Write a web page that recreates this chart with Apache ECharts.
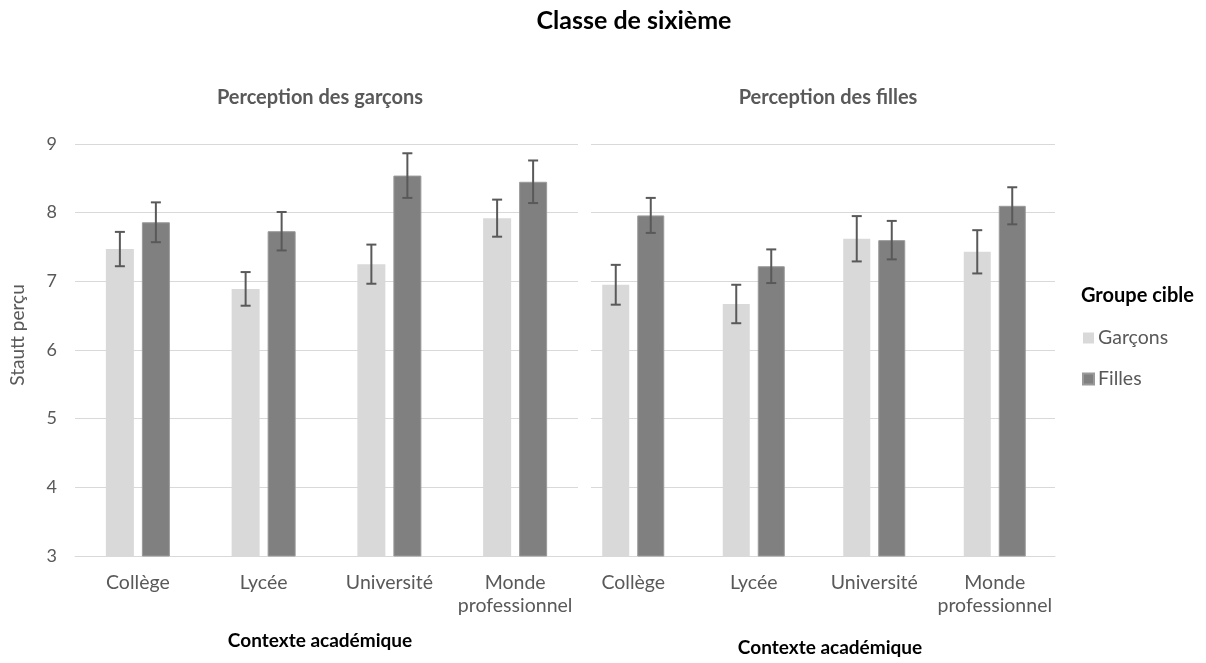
<!DOCTYPE html>
<html><head><meta charset="utf-8">
<script src="https://cdn.jsdelivr.net/npm/echarts@6/dist/echarts.min.js"></script>
<style>html,body{margin:0;padding:0;background:#fff}#c{width:1206px;height:663px}</style>
</head><body><div id="c"></div>
<script>
const categories = ['Collège', 'Lycée', 'Université', 'Monde\nprofessionnel'];
const yTicks = [3, 4, 5, 6, 7, 8, 9];
// Perception des garçons
const boysViewGarcons = [7.47, 6.89, 7.25, 7.92];
const boysViewGarconsErr = [0.25, 0.245, 0.285, 0.27];
const boysViewFilles = [7.86, 7.73, 8.54, 8.45];
const boysViewFillesErr = [0.29, 0.28, 0.325, 0.31];
// Perception des filles
const girlsViewGarcons = [6.95, 6.67, 7.62, 7.43];
const girlsViewGarconsErr = [0.29, 0.28, 0.33, 0.315];
const girlsViewFilles = [7.96, 7.22, 7.60, 8.10];
const girlsViewFillesErr = [0.255, 0.245, 0.28, 0.27];

const FONT = 'Lato';
const TXT = '#595959';
const GRID = '#d9d9d9';
const C_G = '#d9d9d9', C_F = '#808080';
const BW = [28, 27];
const GAP = 8;

function errData(vals, errs) { return vals.map((v, i) => [i, v - errs[i], v + errs[i]]); }
function errSeries(vals, errs, gridIdx, side) {
  const bw = BW[gridIdx];
  const off = side * (bw / 2 + GAP / 2);
  return {
    type: 'custom', xAxisIndex: gridIdx, yAxisIndex: gridIdx, z: 10, silent: true,
    data: errData(vals, errs),
    encode: { x: 0, y: [1, 2] },
    renderItem: function (params, api) {
      const lo = api.coord([api.value(0), api.value(1)]);
      const hi = api.coord([api.value(0), api.value(2)]);
      const x = lo[0] + off, cap = 5;
      const st = { stroke: '#595959', lineWidth: 2 };
      return { type: 'group', children: [
        { type: 'line', shape: { x1: x, y1: lo[1], x2: x, y2: hi[1] }, style: st },
        { type: 'line', shape: { x1: x - cap, y1: lo[1], x2: x + cap, y2: lo[1] }, style: st },
        { type: 'line', shape: { x1: x - cap, y1: hi[1], x2: x + cap, y2: hi[1] }, style: st }
      ]};
    }
  };
}
function xAx(gridIdx) {
  return {
    type: 'category', gridIndex: gridIdx, data: categories,
    axisTick: { show: false },
    axisLine: { show: true, lineStyle: { color: GRID, width: 1 } },
    axisLabel: { color: TXT, fontSize: 19.5, fontFamily: FONT, margin: 15, lineHeight: 23, interval: 0 }
  };
}
function yAx(gridIdx, labels, split) {
  return {
    type: 'value', gridIndex: gridIdx, min: 3, max: 9, interval: 1,
    axisLine: { show: false }, axisTick: { show: false },
    axisLabel: { show: labels, color: TXT, fontSize: 18, fontFamily: FONT, margin: 18 },
    splitLine: { show: split, lineStyle: { color: GRID, width: 1 } }
  };
}

const chart = echarts.init(document.getElementById('c'), null, { renderer: 'canvas' });
chart.setOption({
  animation: false,
  textStyle: { fontFamily: FONT },
  grid: [
    { left: 75, width: 503, top: 144, bottom: 107 },
    { left: 573, width: 482, top: 144, bottom: 107 },
    { left: 591, width: 464, top: 144, bottom: 107 }
  ],
  xAxis: [xAx(0), xAx(1), { type: 'category', gridIndex: 2, data: categories, show: false }],
  yAxis: [yAx(0, true, true), yAx(1, false, false), yAx(2, false, true)],
  legend: {
    orient: 'vertical', left: 1077, top: 323, itemWidth: 11, itemHeight: 11, itemGap: 21,
    icon: 'rect', data: ['Garçons', 'Filles'],
    textStyle: { color: TXT, fontSize: 19.5, fontFamily: FONT, padding: [0, 0, 0, -1] }
  },
  series: [
    { name: 'Garçons', type: 'bar', xAxisIndex: 0, yAxisIndex: 0, data: boysViewGarcons, barWidth: BW[0], barGap: (GAP / BW[0] * 100) + '%', itemStyle: { color: C_G } },
    { name: 'Filles', type: 'bar', xAxisIndex: 0, yAxisIndex: 0, data: boysViewFilles, barWidth: BW[0], itemStyle: { color: C_F, borderColor: '#9a9a9a', borderWidth: 1 } },
    { name: 'Garçons', type: 'bar', xAxisIndex: 1, yAxisIndex: 1, data: girlsViewGarcons, barWidth: BW[1], barGap: (GAP / BW[1] * 100) + '%', itemStyle: { color: C_G } },
    { name: 'Filles', type: 'bar', xAxisIndex: 1, yAxisIndex: 1, data: girlsViewFilles, barWidth: BW[1], itemStyle: { color: C_F, borderColor: '#9a9a9a', borderWidth: 1 } },
    errSeries(boysViewGarcons, boysViewGarconsErr, 0, -1),
    errSeries(boysViewFilles, boysViewFillesErr, 0, 1),
    errSeries(girlsViewGarcons, girlsViewGarconsErr, 1, -1),
    errSeries(girlsViewFilles, girlsViewFillesErr, 1, 1)
  ],
  graphic: [
    { type: 'text', x: 634, y: 21, style: { text: 'Classe de sixième', font: 'bold 25px ' + FONT, fill: '#000', align: 'center', verticalAlign: 'middle' } },
    { type: 'text', x: 320, y: 98, style: { text: 'Perception des garçons', font: 'bold 20px ' + FONT, fill: TXT, align: 'center', verticalAlign: 'middle' } },
    { type: 'text', x: 828, y: 98, style: { text: 'Perception des filles', font: 'bold 20px ' + FONT, fill: TXT, align: 'center', verticalAlign: 'middle' } },
    { type: 'text', x: 320, y: 641, style: { text: 'Contexte académique', font: 'bold 19px ' + FONT, fill: '#000', align: 'center', verticalAlign: 'middle' } },
    { type: 'text', x: 830, y: 648, style: { text: 'Contexte académique', font: 'bold 19px ' + FONT, fill: '#000', align: 'center', verticalAlign: 'middle' } },
    { type: 'text', x: 18, y: 335, rotation: Math.PI / 2, style: { text: 'Stautt perçu', font: '19px ' + FONT, fill: TXT, align: 'center', verticalAlign: 'middle' } },
    { type: 'text', x: 1081, y: 296, style: { text: 'Groupe cible', font: 'bold 20px ' + FONT, fill: '#000', verticalAlign: 'middle' } }
  ]
});
</script></body></html>
